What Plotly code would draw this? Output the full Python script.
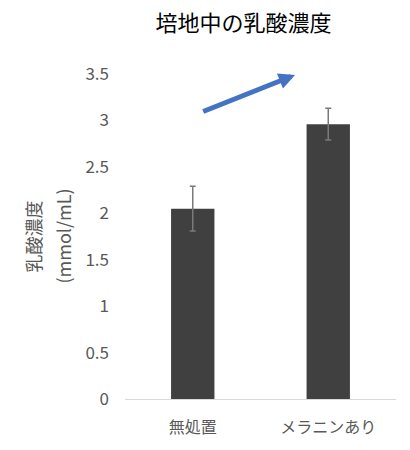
import plotly.graph_objects as go

# Lactate concentration in culture medium
categories = ["無処置", "メラニンあり"]
lactate_mean = [2.05, 2.96]
lactate_err = [0.24, 0.17]
y_ticks = [0, 0.5, 1, 1.5, 2, 2.5, 3, 3.5]
y_tick_labels = ["0", "0.5", "1", "1.5", "2", "2.5", "3", "3.5"]
y_title_lines = ["乳酸濃度", "(mmol/mL)"]

FONT = "Noto Sans CJK JP, Noto Sans, sans-serif"
GRAY = "#595959"
PLOT_LEFT, PLOT_WIDTH = 125, 271

fig = go.Figure()
fig.add_trace(go.Bar(
    x=categories,
    y=lactate_mean,
    marker=dict(color="#404040", line=dict(width=0)),
    error_y=dict(type="data", array=lactate_err, visible=True,
                 color="#7a7a7a", thickness=1.5, width=3),
    showlegend=False,
))

# Upward trend arrow between the two groups
fig.add_annotation(
    x=0.755, y=3.49, xref="x", yref="y",
    ax=0.066, ay=3.09, axref="x", ayref="y",
    text="", showarrow=True,
    arrowhead=2, arrowsize=0.65, arrowwidth=5, arrowcolor="#4472C4",
)

# Rotated y-axis title, one annotation per line for wider line spacing
for text, px in zip(y_title_lines, [32, 62]):
    fig.add_annotation(
        x=(px - PLOT_LEFT) / PLOT_WIDTH, y=0.5, xref="paper", yref="paper",
        text=text, textangle=-90, showarrow=False,
        xanchor="center", yanchor="middle",
        font=dict(family=FONT, size=18, color=GRAY),
    )

fig.update_layout(
    width=410, height=450,
    margin=dict(l=PLOT_LEFT, r=410 - PLOT_LEFT - PLOT_WIDTH, t=74, b=50.5),
    paper_bgcolor="white", plot_bgcolor="white",
    bargap=0.68,
    font=dict(family=FONT, color=GRAY, size=16),
    title=dict(text="培地中の乳酸濃度", x=0.594, xref="container", xanchor="center",
               y=1 - 23 / 450, yref="container", yanchor="middle",
               font=dict(family=FONT, size=22, color="#000000")),
    xaxis=dict(showline=True, linecolor="#d9d9d9", linewidth=1, ticks="",
               showgrid=False, ticklabelstandoff=14,
               tickfont=dict(family=FONT, size=16, color=GRAY)),
    yaxis=dict(range=[0, 3.5], tickvals=y_ticks, ticktext=y_tick_labels,
               showline=False, showgrid=False, zeroline=False, ticks="",
               ticklabelstandoff=15,
               tickfont=dict(family=FONT, size=17, color=GRAY)),
)

fig.write_html("out.html")
